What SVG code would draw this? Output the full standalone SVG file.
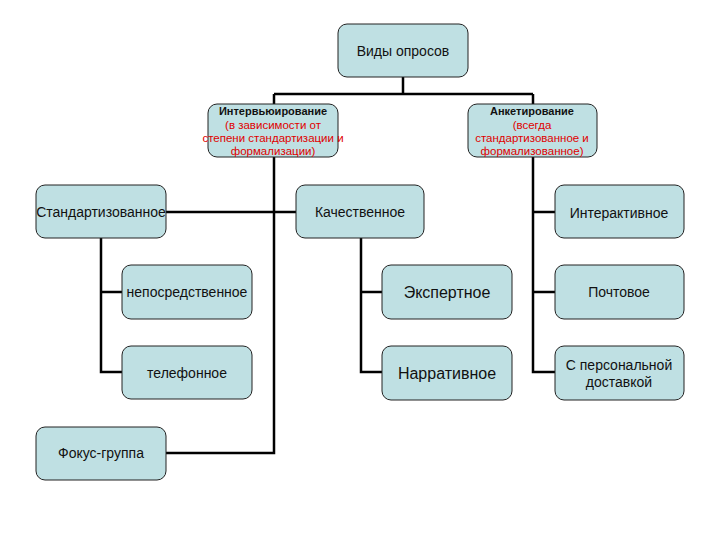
<svg xmlns="http://www.w3.org/2000/svg" width="720" height="540" viewBox="0 0 720 540">
<style>
.box{fill:#bfe0e3;stroke:#222;stroke-width:1}
.t{font-family:"Liberation Sans",Arial,sans-serif;font-size:14px;fill:#111;text-anchor:middle}
.s{font-family:"Liberation Sans",Arial,sans-serif;font-size:11.5px;text-anchor:middle}
.b{font-weight:bold;fill:#111;font-size:11px}
.r{fill:#e00000}
.c{fill:none;stroke:#000;stroke-width:2.5}
</style>
<rect width="720" height="540" fill="#fff"/>
<g id="connectors">
<path class="c" d="M403,77 V94 M274,94 H533 M274,94 V104 M533,94 V104"/>
<path class="c" d="M274,157 V453 H166 M166,212 H296"/>
<path class="c" d="M101,238 V372 H122 M101,292 H122"/>
<path class="c" d="M361,238 V372 H382 M361,292 H382"/>
<path class="c" d="M533,157 V372 H555 M533,212 H555 M533,292 H555"/>
</g>
<g id="root"><rect class="box" x="338" y="24" width="130" height="53" rx="9"/><text class="t" x="403" y="56">Виды опросов</text></g>
<g id="interview"><rect class="box" x="208" y="104" width="130" height="53" rx="9"/>
<text class="s b" x="273" y="115">Интервьюирование</text>
<text class="s r" x="273" y="129">(в зависимости от</text>
<text class="s r" x="273" y="142">степени стандартизации и</text>
<text class="s r" x="273" y="155">формализации)</text></g>
<g id="anketa"><rect class="box" x="468" y="104" width="129" height="53" rx="9"/>
<text class="s b" x="532" y="115">Анкетирование</text>
<text class="s r" x="532" y="129">(всегда</text>
<text class="s r" x="532" y="142">стандартизованное  и</text>
<text class="s r" x="532" y="155">формализованное)</text></g>
<g id="standard"><rect class="box" x="36" y="185" width="130" height="53" rx="9"/><text class="t" x="101" y="217">Стандартизованное</text></g>
<g id="quality"><rect class="box" x="296" y="185" width="128" height="53" rx="9"/><text class="t" x="360" y="217">Качественное</text></g>
<g id="interactive"><rect class="box" x="555" y="185" width="129" height="53" rx="9"/><text class="t" x="619" y="218">Интерактивное</text></g>
<g id="direct"><rect class="box" x="122" y="265" width="130" height="54" rx="9"/><text class="t" x="187" y="297">непосредственное</text></g>
<g id="expert"><rect class="box" x="382" y="265" width="130" height="54" rx="9"/><text class="t" x="447" y="298" style="font-size:16px">Экспертное</text></g>
<g id="mail"><rect class="box" x="555" y="265" width="129" height="54" rx="9"/><text class="t" x="619" y="297">Почтовое</text></g>
<g id="phone"><rect class="box" x="122" y="346" width="130" height="53" rx="9"/><text class="t" x="187" y="378">телефонное</text></g>
<g id="narrative"><rect class="box" x="382" y="346" width="130" height="54" rx="9"/><text class="t" x="447" y="379" style="font-size:16px">Нарративное</text></g>
<g id="personal"><rect class="box" x="555" y="346" width="129" height="54" rx="9"/><text class="t" x="619" y="370">С персональной</text><text class="t" x="619" y="387">доставкой</text></g>
<g id="focus"><rect class="box" x="36" y="427" width="130" height="53" rx="9"/><text class="t" x="101" y="458">Фокус-группа</text></g>
</svg>
